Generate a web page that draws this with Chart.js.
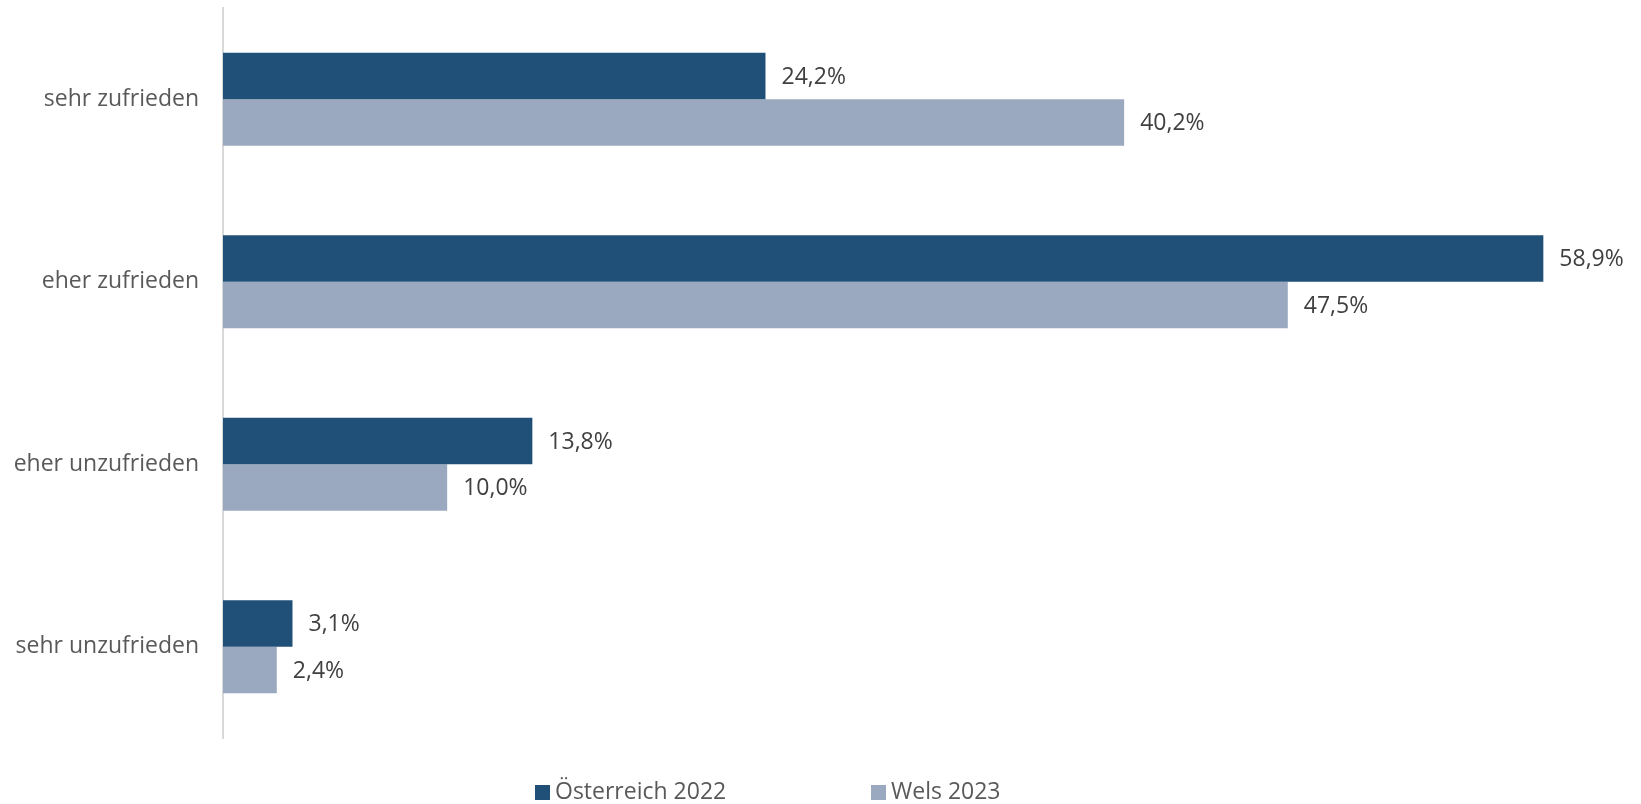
<!DOCTYPE html>
<html>
<head>
<meta charset="utf-8">
<script src="https://cdn.jsdelivr.net/npm/chart.js@4"></script>
<style>
  html, body { margin: 0; padding: 0; background: #fff; }
</style>
</head>
<body>
<canvas id="chart" width="1641" height="804"></canvas>
<script>
const categories = ['sehr zufrieden', 'eher zufrieden', 'eher unzufrieden', 'sehr unzufrieden']
const oesterreich2022 = [24.2, 58.9, 13.8, 3.1]
const wels2023 = [40.2, 47.5, 10.0, 2.4]
const seriesNames = ['Österreich 2022', 'Wels 2023']

const fmt = v => v.toFixed(1).replace('.', ',') + '%'

// value labels at the bar ends
const valueLabels = {
  id: 'valueLabels',
  afterDatasetsDraw(chart){
    const ctx = chart.ctx
    ctx.save()
    ctx.font = '23px "Open Sans"'
    ctx.fillStyle = '#404040'
    ctx.textBaseline = 'middle'
    chart.data.datasets.forEach((ds, i) => {
      chart.getDatasetMeta(i).data.forEach((bar, j) => {
        ctx.fillText(fmt(ds.data[j]), bar.x + 16, bar.y + 1)
      })
    })
    ctx.restore()
  }
}

// legend drawn by hand so it sits where the original one is
const bottomLegend = {
  id: 'bottomLegend',
  afterDraw(chart){
    const ctx = chart.ctx
    const xs = [535, 871]
    ctx.save()
    ctx.font = '23px "Open Sans"'
    ctx.textBaseline = 'middle'
    chart.data.datasets.forEach((ds, i) => {
      ctx.fillStyle = ds.backgroundColor
      ctx.fillRect(xs[i], 785, 15, 15)
      ctx.fillStyle = '#595959'
      ctx.fillText(ds.label, xs[i] + 20, 792)
    })
    ctx.restore()
  }
}

new Chart(document.getElementById('chart'), {
  type: 'bar',
  data: {
    labels: categories,
    datasets: [
      { label: seriesNames[0], data: oesterreich2022, backgroundColor: '#204f78' },
      { label: seriesNames[1], data: wels2023, backgroundColor: '#9aa9bf' }
    ]
  },
  options: {
    indexAxis: 'y',
    responsive: false,
    animation: false,
    categoryPercentage: 0.51,
    barPercentage: 1,
    layout: { padding: { left: 0, right: 73, top: 8, bottom: 66 } },
    plugins: {
      legend: { display: false },
      tooltip: { enabled: false }
    },
    scales: {
      x: {
        min: 0,
        max: 60,
        display: false,
        grid: { display: false }
      },
      y: {
        afterFit(scale){
          scale.width = 223
          scale.paddingTop = 0
          scale.paddingBottom = 0
        },
        grid: { display: false, drawTicks: false },
        border: { color: '#d9d9d9', width: 2 },
        ticks: {
          padding: 24,
          color: '#595959',
          font: { family: 'Open Sans', size: 23 }
        }
      }
    }
  },
  plugins: [valueLabels, bottomLegend]
})
</script>
</body>
</html>
